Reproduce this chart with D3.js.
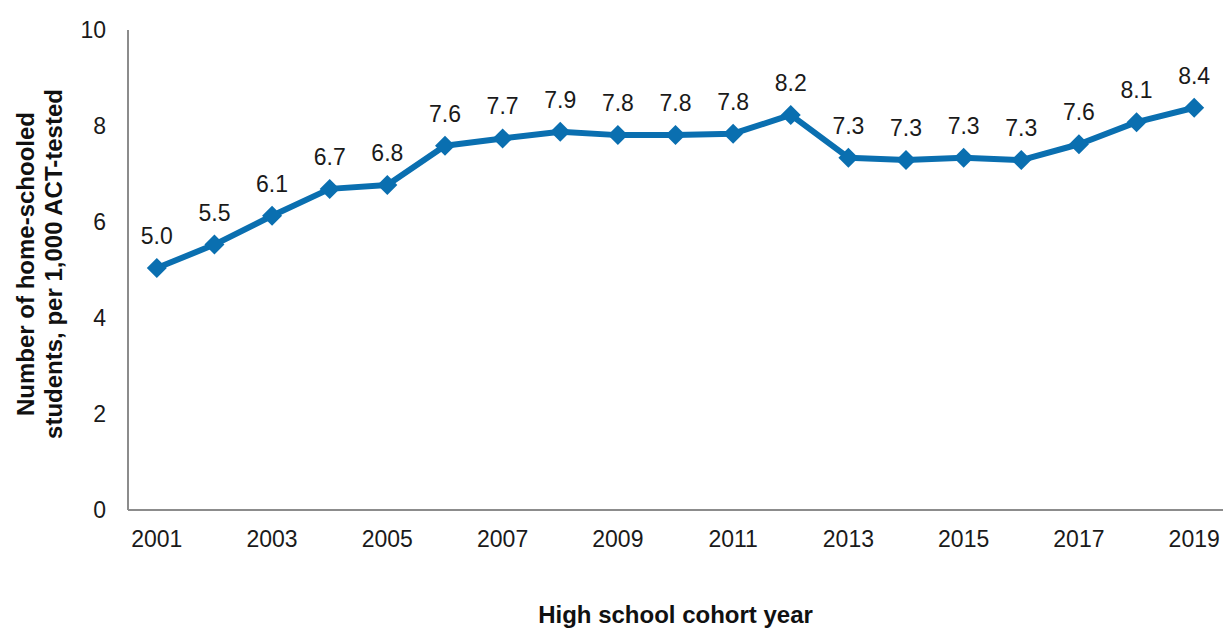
<!DOCTYPE html>
<html>
<head>
<meta charset="utf-8">
<script src="https://cdn.jsdelivr.net/npm/d3@7"></script>
<style>
  html, body { margin: 0; padding: 0; background: #fff; }
  svg { display: block; font-family: "Liberation Sans", Arial, sans-serif; }
</style>
</head>
<body>
<svg id="chart" width="1223" height="629"></svg>
<script>
const years = ["2001","2002","2003","2004","2005","2006","2007","2008","2009","2010",
               "2011","2012","2013","2014","2015","2016","2017","2018","2019"];
const values = [5.04, 5.53, 6.13, 6.69, 6.77, 7.59, 7.74, 7.88, 7.81, 7.81,
                7.84, 8.23, 7.34, 7.29, 7.34, 7.29, 7.62, 8.08, 8.38];
const yTicks = [0, 2, 4, 6, 8, 10];
const xTickLabels = ["2001","2003","2005","2007","2009","2011","2013","2015","2017","2019"];
const yTitleLines = ["Number of home-schooled", "students, per 1,000 ACT-tested"];
const xTitle = "High school cohort year";

(function () {
const svg = d3.select("#chart");
const mLeft = 128, mRight = 1223, mTop = 30, mBottom = 510;
const blue = "#0a6fb0";

const x = d3.scalePoint().domain(years).range([mLeft, mRight]).padding(0.5);
const y = d3.scaleLinear().domain([0, 10]).range([mBottom, mTop]);

// axes lines
svg.append("line").attr("x1", mLeft).attr("x2", mLeft).attr("y1", mTop).attr("y2", mBottom)
  .attr("stroke", "#8c8c8c").attr("stroke-width", 2);
svg.append("line").attr("x1", mLeft).attr("x2", mRight).attr("y1", mBottom).attr("y2", mBottom)
  .attr("stroke", "#8c8c8c").attr("stroke-width", 2);

// y tick labels
svg.append("g").selectAll("text").data(yTicks).join("text")
  .attr("x", 106).attr("y", d => y(d)).attr("dy", "0.36em")
  .attr("text-anchor", "end").attr("font-size", 23).attr("fill", "#1a1a1a")
  .text(d => d);

// x tick labels
svg.append("g").selectAll("text").data(xTickLabels).join("text")
  .attr("x", d => x(d)).attr("y", 547)
  .attr("text-anchor", "middle").attr("font-size", 23).attr("fill", "#1a1a1a")
  .text(d => d);

// line
const line = d3.line().x((d, i) => x(years[i])).y(d => y(d));
svg.append("path").datum(values).attr("d", line)
  .attr("fill", "none").attr("stroke", blue).attr("stroke-width", 6)
  .attr("stroke-linejoin", "round");

// markers (diamonds)
const diamond = d3.symbol().type(d3.symbolSquare).size(200);
svg.append("g").selectAll("path").data(values).join("path")
  .attr("d", diamond)
  .attr("transform", (d, i) => `translate(${x(years[i])},${y(d)}) rotate(45)`)
  .attr("fill", blue);

// data labels
const fmt = d3.format(".1f");
svg.append("g").selectAll("text").data(values).join("text")
  .attr("x", (d, i) => x(years[i])).attr("y", d => y(d) - 24)
  .attr("text-anchor", "middle").attr("font-size", 23).attr("fill", "#1a1a1a")
  .text(d => fmt(d));

// y title
const yt = svg.append("text")
  .attr("transform", "translate(34,264) rotate(-90)")
  .attr("text-anchor", "middle").attr("font-size", 24).attr("font-weight", "bold")
  .attr("fill", "#111");
yt.selectAll("tspan").data(yTitleLines).join("tspan")
  .attr("x", 0).attr("dy", (d, i) => i === 0 ? 0 : 28).text(d => d);

// x title
svg.append("text").attr("x", (mLeft + mRight) / 2).attr("y", 623)
  .attr("text-anchor", "middle").attr("font-size", 24).attr("font-weight", "bold")
  .attr("fill", "#111").text(xTitle);
})();
</script>
</body>
</html>
